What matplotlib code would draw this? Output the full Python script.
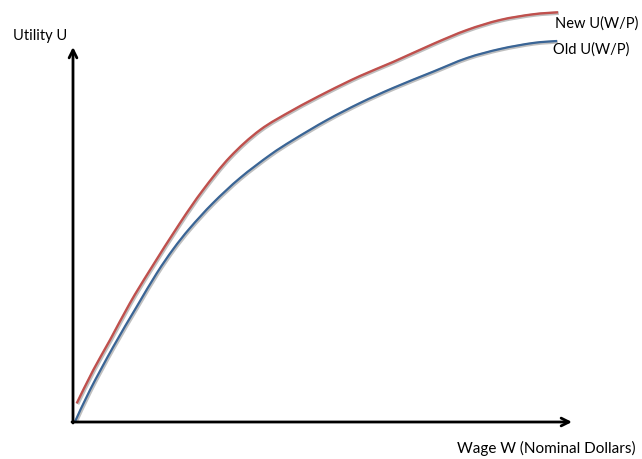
import matplotlib
matplotlib.use('Agg')
import matplotlib.pyplot as plt
import matplotlib.patheffects as pe
from matplotlib.path import Path
from matplotlib.patches import PathPatch

plt.rcParams['font.family'] = ['Lato', 'DejaVu Sans']

# wage (x) and utility (y), measured from the origin of the arrows
new_w = [3.7, 20.3, 37, 57, 77, 107, 130, 157, 187, 220, 254, 287, 320, 360, 394, 427, 460, 485]
new_u = [18.7, 52, 82, 119, 152, 199, 232, 265, 292, 312, 330, 346, 360, 378, 392, 402, 407.7, 409.7]
old_w = [2, 17, 40.3, 63.7, 83.7, 100.3, 117, 140, 167, 197, 220, 254, 287, 320, 360, 394, 427, 460, 484]
old_u = [0.3, 32, 75.3, 115.3, 148.7, 173, 194, 219, 244, 267, 282, 302, 319, 334, 350.3, 364, 373, 379, 381]

x_end = 499
y_end = 375


def smooth_path(xs, ys):
    # catmull-rom through the points, written as cubic bezier segments
    pts = list(zip(xs, ys))
    verts = [pts[0]]
    codes = [Path.MOVETO]
    for i in range(len(pts) - 1):
        p0 = pts[max(i - 1, 0)]
        p1 = pts[i]
        p2 = pts[i + 1]
        p3 = pts[min(i + 2, len(pts) - 1)]
        c1 = (p1[0] + (p2[0] - p0[0]) / 6, p1[1] + (p2[1] - p0[1]) / 6)
        c2 = (p2[0] - (p3[0] - p1[0]) / 6, p2[1] - (p3[1] - p1[1]) / 6)
        verts += [c1, c2, p2]
        codes += [Path.CURVE4] * 3
    return Path(verts, codes)


fig = plt.figure(figsize=(6.42, 4.59), dpi=100)
ax = fig.add_axes([0, 0, 1, 1])
ax.set_xlim(-73, 569)
ax.set_ylim(-37, 422)
ax.axis('off')

shadow = [pe.SimpleLineShadow(offset=(0.6, -0.6), alpha=0.25, linewidth=2.6), pe.Normal()]

ax.add_patch(PathPatch(smooth_path(new_w, new_u), fill=False, edgecolor='#C0504D', lw=1.7,
                       capstyle='butt', path_effects=shadow))
ax.add_patch(PathPatch(smooth_path(old_w, old_u), fill=False, edgecolor='#3A6596', lw=1.6,
                       capstyle='butt', path_effects=shadow))

arrow = dict(arrowstyle='->', color='black', lw=2, shrinkA=0, shrinkB=0, mutation_scale=14)
ax.annotate('', xy=(x_end, 0), xytext=(-1, 0), arrowprops=arrow)
ax.annotate('', xy=(0, y_end), xytext=(0, -1), arrowprops=arrow)

ax.text(-60, 386, 'Utility U', fontsize=10.5, va='center', ha='left')
ax.text(482, 398, 'New U(W/P)', fontsize=10.5, va='center', ha='left')
ax.text(480, 372, 'Old U(W/P)', fontsize=10.5, va='center', ha='left')
ax.text(384, -26, 'Wage W (Nominal Dollars)', fontsize=11, va='center', ha='left')

fig.savefig('out.png', dpi=100)
